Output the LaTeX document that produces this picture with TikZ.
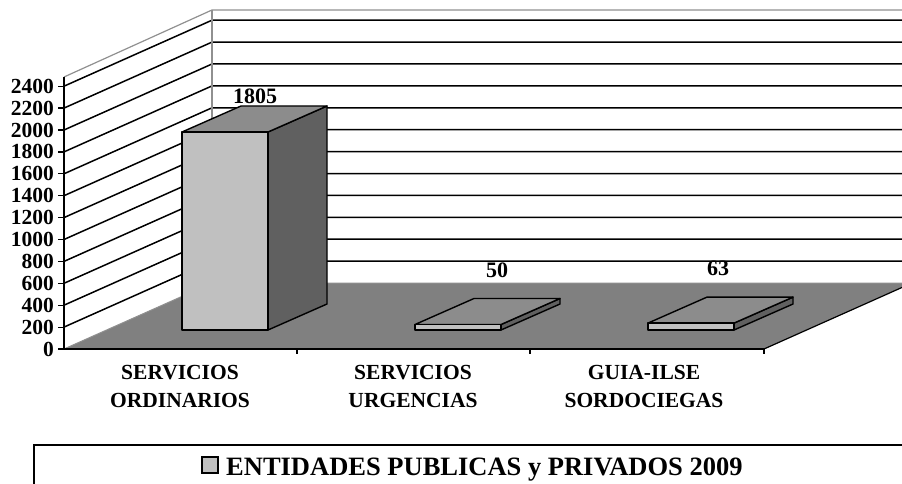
\documentclass[tikz,border=0pt]{standalone}
\usepackage{fontspec}
\setmainfont{Liberation Serif}
\definecolor{floorgray}{HTML}{808080}
\definecolor{barfrontc}{HTML}{C0C0C0}
\definecolor{bartopc}{HTML}{8C8C8C}
\definecolor{barsidec}{HTML}{606060}
\definecolor{edgegray}{HTML}{909090}
\begin{document}
\begin{tikzpicture}[x=1pt,y=-1pt,
  gridline/.style={black,line width=1.5pt},
  walledge/.style={edgegray,line width=1.2pt},
  barfront/.style={fill=barfrontc,draw=black,line width=1.4pt,line join=round},
  bartop/.style={fill=bartopc,draw=black,line width=1.4pt,line join=round},
  barside/.style={fill=barsidec,draw=black,line width=1.4pt,line join=round},
  ticklab/.style={font=\fontsize{21.5}{22}\selectfont\bfseries,inner sep=0pt,anchor=east},
  vallab/.style={font=\fontsize{22}{23}\selectfont\bfseries,inner sep=0pt},
  catlab/.style={font=\fontsize{21.5}{28.5}\selectfont\bfseries,inner sep=0pt,anchor=north,align=center},
  leglab/.style={font=\fontsize{26.5}{28}\selectfont\bfseries,inner sep=0pt,anchor=base west}]
\useasboundingbox (0,0) rectangle (902,484);
% walls
\fill[white] (64,77) -- (212,10) -- (212,283) -- (64,349) -- cycle;
\fill[white] (212,10) rectangle (902,283);
% gridlines
\foreach \k in {1,...,12} {
  \pgfmathsetmacro\yy{349-21.9*\k}
  \pgfmathtruncatemacro\v{200*\k}
  \draw[gridline] (64,\yy) -- (212,{\yy-66}) -- (902,{\yy-66});
  \draw[black,line width=1.2pt] (58,\yy) -- (64,\yy);
  \node[ticklab] (t\k) at (54,\yy) {\v};
}
\node[ticklab] (t0) at (54,349) {0};
\draw[black,line width=1.2pt] (58,349) -- (64,349);
% wall edges
\draw[walledge] (64,77) -- (212,10) -- (902,10);
\draw[walledge] (212,10) -- (212,283);
% floor
\fill[floorgray] (64,349) -- (212,283) -- (912,283) -- (764,349) -- cycle;
\draw[edgegray,line width=1pt] (64,349) -- (212,283) -- (912,283);
\draw[black,line width=1.2pt] (764,349) -- (912,283);
% axes
\draw[black,line width=1.4pt] (64,77) -- (64,349);
\draw[black,line width=2pt] (64,349) -- (764,349);
\foreach \xx in {297,530,764} \draw[black,line width=1.2pt] (\xx,349) -- (\xx,354);
% bar 1
\draw[barside] (268,330) -- (327,304) -- (327,106) -- (268,132) -- cycle;
\draw[bartop] (182,132) -- (241,106) -- (327,106) -- (268,132) -- cycle;
\draw[barfront] (182,132) rectangle (268,330);
% bar 2
\draw[barside] (501,330) -- (560,304) -- (560,298.5) -- (501,324.5) -- cycle;
\draw[bartop] (415,324.5) -- (474,298.5) -- (560,298.5) -- (501,324.5) -- cycle;
\draw[barfront] (415,324.5) rectangle (501,330);
% bar 3
\draw[barside] (734,330) -- (793,304) -- (793,297.1) -- (734,323.1) -- cycle;
\draw[bartop] (648,323.1) -- (707,297.1) -- (793,297.1) -- (734,323.1) -- cycle;
\draw[barfront] (648,323.1) rectangle (734,330);
% value labels
\node[vallab] (v1) at (255,96) {1805};
\node[vallab] (v2) at (497,270) {50};
\node[vallab] (v3) at (718,268) {63};
% category labels
\node[catlab] (c1) at (180,365) {SERVICIOS\\ORDINARIOS};
\node[catlab] (c2) at (413,365) {SERVICIOS\\URGENCIAS};
\node[catlab] (c3) at (644,365) {GUIA-ILSE\\SORDOCIEGAS};
% legend
\draw[black,line width=1.5pt] (34,490) -- (34,445) -- (910,445);
\draw[fill=barfrontc,draw=black,line width=1.2pt] (202,457) rectangle (218,473);
\node[leglab] (leg) at (226,475.5) {ENTIDADES PUBLICAS y PRIVADOS 2009};
\end{tikzpicture}
\end{document}
